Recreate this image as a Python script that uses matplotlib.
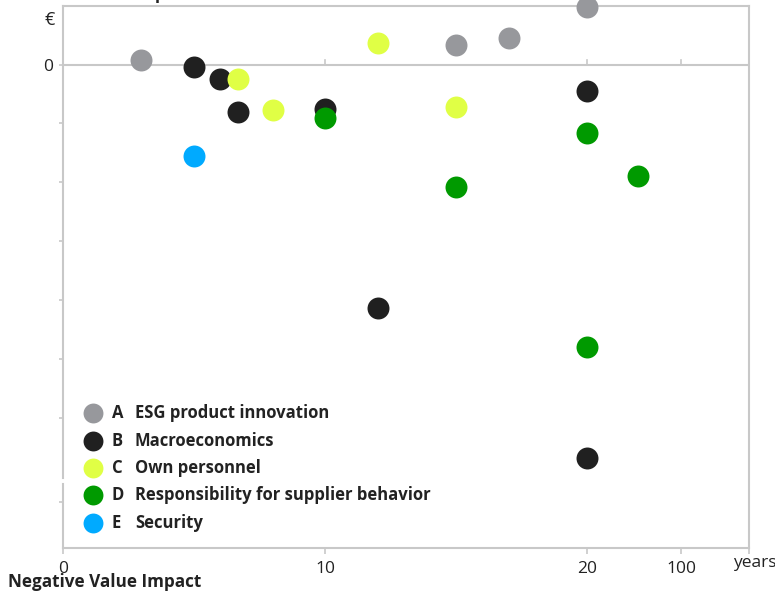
import numpy as np
import matplotlib.pyplot as plt

plt.rcParams['font.family'] = ['Open Sans', 'DejaVu Sans']

# years until impact (x) vs. value impact in € (y, arbitrary units)
esg_x = [3, 15, 17, 20]
esg_y = [0.07, 0.33, 0.45, 0.97]
macro_x = [5, 6, 6.7, 10, 12, 20, 20]
macro_y = [-0.04, -0.25, -0.80, -0.75, -4.14, -0.45, -6.69]
personnel_x = [6.7, 8, 12, 15]
personnel_y = [-0.25, -0.77, 0.37, -0.72]
supplier_x = [10, 15, 20, 63, 20]
supplier_y = [-0.91, -2.08, -1.17, -1.90, -4.79]
security_x = [5]
security_y = [-1.56]

series = [
    ("A", "ESG product innovation", esg_x, esg_y, "#97989c"),
    ("B", "Macroeconomics", macro_x, macro_y, "#202020"),
    ("C", "Own personnel", personnel_x, personnel_y, "#e0ff45"),
    ("D", "Responsibility for supplier behavior", supplier_x, supplier_y, "#009a00"),
    ("E", "Security", security_x, security_y, "#00aaff"),
]

x_ticks = [0, 10, 20, 100]
x_tick_labels = ["0", "10", "20", "100"]

GRID = "#c8c8c8"
TEXT = "#222222"

# 0-20 years linear, 20-100 squeezed into a short segment
brk_in = [-100, 0, 20, 100, 1000]
brk_out = [-100, 0, 20, 23.58, 23.58 + 900 * 3.58 / 80]


def fwd(x):
    return np.interp(x, brk_in, brk_out)


def inv(x):
    return np.interp(x, brk_out, brk_in)


fig = plt.figure(figsize=(7.75, 5.92), dpi=100)
ax = fig.add_axes([0.0809, 0.0743, 0.8856, 0.9155])
ax.set_xscale("function", functions=(fwd, inv))
xmax = 157.7
ax.set_xlim(0, xmax)
ylo, yhi = -8.21, 0.993
ax.set_ylim(ylo, yhi)

for letter, name, xs, ys, col in series:
    ax.scatter(xs, ys, s=250, color=col, linewidths=0, zorder=3, clip_on=False)

# axes frame
for side in ["top", "right", "bottom"]:
    ax.spines[side].set_color(GRID)
    ax.spines[side].set_linewidth(1.5)
ax.spines["left"].set_visible(False)
# left axis with a small break
ytr = ax.get_yaxis_transform()
ax.plot([0, 0], [ylo, -7.12], transform=ytr, color=GRID, lw=1.5, clip_on=False)
ax.plot([0, 0], [-7.02, yhi], transform=ytr, color=GRID, lw=1.5, clip_on=False)

ax.axhline(0, color=GRID, lw=1.5, zorder=1)
# small ticks on the zero line
for xt in x_ticks[1:]:
    ax.plot([xt, xt], [0, 0.07], color=GRID, lw=1.2, zorder=1)

ax.set_xticks(x_ticks + [xmax])
ax.set_xticklabels(x_tick_labels + [""])
ax.xaxis.set_minor_locator(plt.NullLocator())
ax.tick_params(axis="x", direction="out", length=4, width=1.2, color=GRID,
               labelsize=12.5, labelcolor=TEXT, pad=5)

ax.set_yticks([0, -1, -2, -3, -4, -5, -6, -7.43])
ax.set_yticklabels(["0"] + [""] * 7)
ax.yaxis.set_minor_locator(plt.NullLocator())
ax.tick_params(axis="y", direction="out", length=3, width=1.2, color=GRID,
               labelsize=12.5, labelcolor=TEXT, pad=4)

# legend
row_y = [0.249, 0.198, 0.148, 0.097, 0.046]
for (letter, name, xs, ys, col), yy in zip(series, row_y):
    ax.scatter([0.0442], [yy], s=205, color=col, linewidths=0,
               transform=ax.transAxes, clip_on=False, zorder=3)
    ax.text(0.0718, yy, letter, transform=ax.transAxes, fontsize=12,
            fontweight="bold", color=TEXT, va="center", ha="left")
    ax.text(0.1053, yy, name, transform=ax.transAxes, fontsize=12,
            fontweight="bold", color=TEXT, va="center", ha="left")

fig.text(50 / 775, 1 - 20 / 592, "€", fontsize=13, color=TEXT,
         ha="center", va="center")
fig.text(8 / 775, 1 + 1 / 592, "Positive Value Impact", fontsize=12.3,
         fontweight="bold", color=TEXT, ha="left", va="baseline")
fig.text(8 / 775, 1 - 582 / 592, "Negative Value Impact", fontsize=12.3,
         fontweight="bold", color=TEXT, ha="left", va="center")
fig.text(733 / 775, 1 - 563 / 592, "years", fontsize=12.5, color=TEXT,
         ha="left", va="center")

fig.savefig("out.png", dpi=100)
